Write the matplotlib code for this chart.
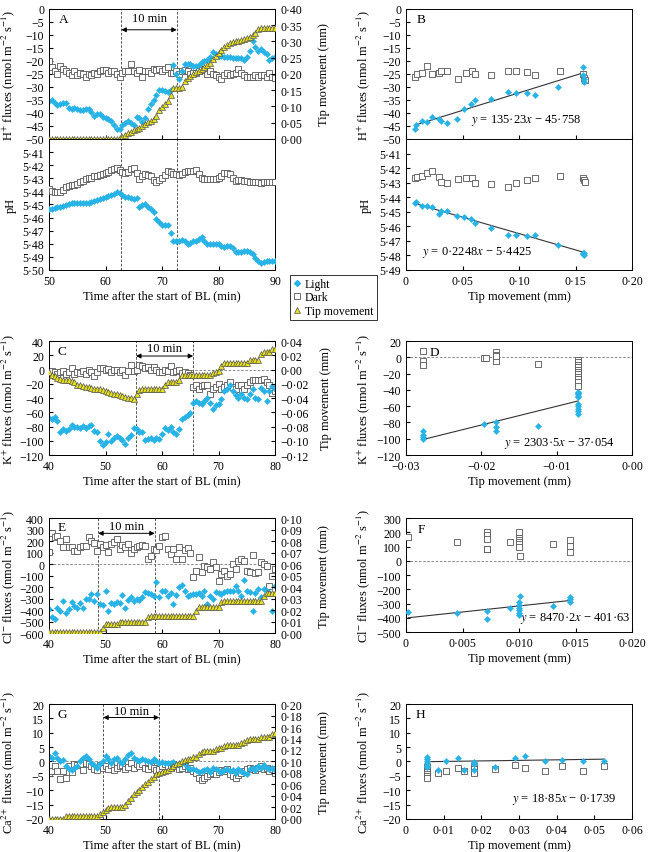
import numpy as np
import matplotlib
matplotlib.use('Agg')
import matplotlib.pyplot as plt
from matplotlib.ticker import FuncFormatter, MultipleLocator
from matplotlib.lines import Line2D

plt.rcParams['font.family'] = ['Liberation Serif', 'DejaVu Serif']
plt.rcParams['mathtext.fontset'] = 'stix'
plt.rcParams['font.size'] = 8.5
plt.rcParams['axes.labelsize'] = 9
plt.rcParams['xtick.direction'] = 'in'
plt.rcParams['ytick.direction'] = 'in'
plt.rcParams['xtick.major.size'] = 3
plt.rcParams['ytick.major.size'] = 3
plt.rcParams['axes.linewidth'] = 0.7

CYAN = '#27b3e6'
YELLOW = '#e6e11c'
EDGE = '#555555'

# ---- panel A (time 50-90 min, every 0.5 min) ----
time_a = np.arange(50, 90.01, 0.5)
a_h_light = [-35.5, -35, -36, -37, -36.5, -36, -36, -38, -38.5, -38,
             -38.5, -39, -39, -38.5, -38.5, -39.5, -41, -40.5, -40.5, -41.5,
             -42, -42.5, -43, -44.5, -46, -46, -44.5, -44, -43, -44,
             -44.5, -41.5, -42, -43.5, -42, -38.5, -36.5, -35, -33, -31,
             -31, -31.5, -32, -31, -21.5, -25, -27, -24, -21, -21,
             -21, -22, -22, -21.5, -20.5, -20, -19.5, -18.5, -16.5, -17.5,
             -18, -18, -18.5, -18.5, -18.5, -19, -19, -19, -19, -19.5,
             -18.5, -16, -12.5, -14.5, -16, -15.5, -16.5, -17.5, -19.5, -19,
             -18.5]
a_h_dark = [-20, -22.5, -24, -25, -22, -23, -24, -24.5, -25.5, -24,
            -25.5, -24.5, -25, -26, -25, -25.5, -24.5, -25, -24, -23.5,
            -23.5, -24.5, -24, -24, -25, -26, -24.5, -24, -24, -21,
            -24, -24.5, -23.5, -26, -24, -24, -24.5, -23, -23.5, -23,
            -24, -23, -22.5, -24.5, -24.5, -24, -25, -24, -23.5, -24,
            -25, -24.5, -24.5, -24, -23, -23.5, -25, -24, -25, -25.5,
            -26, -27, -25.5, -24.5, -25.5, -25, -24.5, -23, -24.5, -25.5,
            -26, -26, -26, -25.5, -26, -25.5, -25.5, -26, -24.5, -26,
            -26.5]
a_tip = [0, 0, 0, 0, 0, 0, 0, 0, 0, 0,
         0, 0, 0, 0, 0, 0, 0, 0, 0, 0,
         0, 0, 0, 0, 0, 0.002, 0.005, 0.012, 0.018, 0.023,
         0.027, 0.031, 0.035, 0.04, 0.046, 0.051, 0.056, 0.061, 0.07, 0.09,
         0.098, 0.108, 0.118, 0.134, 0.157, 0.157, 0.157, 0.16, 0.178, 0.188,
         0.194, 0.2, 0.205, 0.21, 0.215, 0.222, 0.228, 0.233, 0.245, 0.255,
         0.265, 0.275, 0.283, 0.29, 0.295, 0.298, 0.3, 0.303, 0.305, 0.308,
         0.311, 0.314, 0.32, 0.326, 0.338, 0.342, 0.342, 0.342, 0.342, 0.342,
         0.342]
a_ph_light = [5.4533, 5.4533, 5.4528, 5.452, 5.452, 5.451, 5.4505, 5.4495, 5.449, 5.4488,
              5.449, 5.4488, 5.4485, 5.4487, 5.4485, 5.448, 5.447, 5.4465, 5.446, 5.4452,
              5.4445, 5.4435, 5.4428, 5.442, 5.4406, 5.4415, 5.443, 5.444, 5.4442, 5.445,
              5.4457, 5.4452, 5.452, 5.4505, 5.4495, 5.452, 5.4533, 5.4555, 5.461, 5.4635,
              5.4656, 5.4656, 5.4656, 5.4717, 5.478, 5.4775, 5.4775, 5.4768, 5.478, 5.4798,
              5.4792, 5.478, 5.4775, 5.4765, 5.475, 5.4775, 5.48, 5.4798, 5.48, 5.4802,
              5.4805, 5.4815, 5.4827, 5.482, 5.4818, 5.4835, 5.4865, 5.4862, 5.486, 5.4857,
              5.4857, 5.4865, 5.488, 5.4905, 5.4929, 5.4945, 5.494, 5.493, 5.4932, 5.4932,
              5.493]
a_ph_dark = [5.438, 5.4395, 5.4406, 5.4404, 5.4402, 5.439, 5.4368, 5.4362, 5.435, 5.4352,
             5.4345, 5.433, 5.4317, 5.4305, 5.43, 5.4295, 5.4284, 5.428, 5.4273, 5.4268,
             5.4258, 5.4252, 5.424, 5.4228, 5.4222, 5.4235, 5.4253, 5.4258, 5.425, 5.4232,
             5.4222, 5.426, 5.4304, 5.4285, 5.427, 5.4275, 5.428, 5.431, 5.433, 5.4315,
             5.43, 5.4275, 5.4248, 5.4255, 5.4265, 5.427, 5.4278, 5.4265, 5.425, 5.4245,
             5.4248, 5.4245, 5.424, 5.427, 5.43, 5.4302, 5.4304, 5.4306, 5.4308, 5.4302,
             5.43, 5.428, 5.4258, 5.4262, 5.4268, 5.43, 5.4317, 5.4316, 5.4315, 5.4318,
             5.432, 5.4325, 5.433, 5.4328, 5.433, 5.4335, 5.4332, 5.4328, 5.4325, 5.4328,
             5.433]

# ---- panel B (regressions against tip movement) ----
b_tip_light = [0.0077, 0.0089, 0.0143, 0.0187, 0.0232, 0.0291, 0.0306, 0.0366, 0.0455, 0.0514, 0.0574,
               0.0609, 0.0752, 0.0900, 0.0975, 0.1070, 0.1138, 0.1346, 0.1565, 0.1569, 0.1572, 0.1575]
b_h_light = [-46, -44.5, -43, -43.5, -41.5, -42.5, -43, -44, -42.5, -38.5, -36.5,
             -35, -34.5, -32, -32.5, -32.5, -33, -30, -22.5, -25.5, -28, -27]
b_ph_light = [5.4443, 5.4433, 5.4457, 5.446, 5.4466, 5.4518, 5.4496, 5.4496, 5.453, 5.4534, 5.4553,
              5.4575, 5.4614, 5.466, 5.4662, 5.4667, 5.466, 5.4729, 5.4781, 5.4793, 5.48, 5.4786]
b_tip_dark = [0.0077, 0.0095, 0.0143, 0.0187, 0.0232, 0.0291, 0.0306, 0.0366, 0.0462, 0.0529, 0.0580,
              0.0609, 0.0752, 0.0900, 0.0975, 0.1070, 0.1138, 0.1360, 0.1565, 0.1578, 0.1580]
b_h_dark = [-26, -25, -24.5, -22, -25, -24.5, -23.8, -24, -27, -24.8, -24,
            -25.2, -25.5, -23.8, -23.7, -24.3, -25.5, -23.8, -25, -26.5, -27.5]
b_ph_dark = [5.4267, 5.4262, 5.4251, 5.4233, 5.4223, 5.4262, 5.4297, 5.4301, 5.4278, 5.4271, 5.4271,
             5.4301, 5.4306, 5.4329, 5.4301, 5.4283, 5.4267, 5.4251, 5.4267, 5.4283, 5.4297]
b_h_fit = (135.23, -45.758)
b_ph_fit = (0.2248, 5.4425)

# ---- panels C, E, G (time 40-80 min, every 0.5 min) ----
time_c = np.arange(40, 80.01, 0.5)
c_k_light = [-68, -70, -66, -72, -88, -84, -86, -84, -78, -80,
             -80, -82, -79, -82, -79, -78, -86, -87, -100, -106,
             -102, -90, -100, -96, -93, -96, -99, -105, -96, -92,
             -82, -84, -88, -88, -99, -98, -96, -99, -96, -98,
             -91, -82, -85, -80, -88, -91, -83, -70, -66, -64,
             -61, -47, -44, -47, -49, -44, -40, -47, -55, -50,
             -49, -42, -30, -28, -21, -30, -36, -40, -35, -40,
             -41, -35, -28, -40, -42, -26, -30, -44, -30, -23,
             -28]
c_k_dark = [-8, -2, -4, -6, -3, -2, -6, -4, 2, -6,
            -4, -5, -2, -6, 0, -4, -9, -3, 2, 2,
            0, 1, -3, 0, -1, -3, -1, -8, -2, 7,
            -2, -1, 6, 5, 2, 4, 0, 3, 0, -4,
            -3, 0, -2, 5, -4, -2, 0, -5, -3, -5,
            -7, -25, -22, -28, -23, -22, -22, -35, -27, -25,
            -20, -28, -25, -22, -18, -25, -28, -21, -22, -28,
            -22, -18, -15, -14, -15, -15, -13, -18, -22, -33,
            -30]
c_tip = [-0.003, -0.008, -0.009, -0.012, -0.013, -0.014, -0.015, -0.015, -0.016, -0.018,
         -0.021, -0.022, -0.023, -0.024, -0.025, -0.026, -0.027, -0.028, -0.028, -0.029,
         -0.030, -0.031, -0.033, -0.034, -0.035, -0.036, -0.037, -0.038, -0.040, -0.040,
         -0.041, -0.035, -0.029, -0.028, -0.028, -0.028, -0.028, -0.028, -0.028, -0.028,
         -0.028, -0.021, -0.018, -0.018, -0.018, -0.018, -0.014, -0.008, -0.007, -0.007,
         -0.007, -0.007, -0.007, -0.007, -0.007, -0.007, -0.007, -0.007, -0.005, -0.004,
         -0.002, 0.005, 0.009, 0.009, 0.009, 0.009, 0.009, 0.009, 0.009, 0.009,
         0.009, 0.013, 0.013, 0.013, 0.013, 0.022, 0.024, 0.024, 0.025, 0.029,
         0.029]

e_cl_light = [-391, -464, -478, -383, -406, -325, -429, -391, -333, -362,
              -383, -342, -383, -304, -304, -261, -325, -261, -348, -354,
              -238, -406, -342, -348, -333, -340, -267, -383, -313, -290,
              -325, -304, -310, -284, -246, -255, -261, -275, -159, -284,
              -238, -232, -275, -255, -348, -267, -203, -180, -238, -275,
              -267, -261, -261, -255, -275, -238, -348, -275, -304, -246,
              -255, -261, -246, -232, -232, -232, -188, -232, -275, -139,
              -232, -246, -406, -255, -217, -290, -217, -232, -255, -406,
              -188]
e_cl_dark = [101, 267, 238, 246, 200, 145, 217, 151, 145, 110,
             116, 151, 159, 160, 232, 203, 180, 116, 174, 145,
             168, 101, 174, 188, 217, 130, 168, 145, 174, 93,
             130, 145, 159, 168, 160, 45, 72, 130, 122, 159,
             232, 246, 130, 87, 130, 45, 145, 45, 122, 139,
             93, -116, -64, 64, -72, -14, -29, -43, 14, -29,
             -145, -87, -58, -101, -87, 0, -43, 29, 43, 29,
             -64, -72, 81, -81, -72, 14, 0, -14, -188, -101,
             -43]
e_tip = [0.0006, 0.0006, 0.0006, 0.0006, 0.0006, 0.0006, 0.0006, 0.0006, 0.0006, 0.0006,
         0.0006, 0.0006, 0.0006, 0.0006, 0.0006, 0.0006, 0.0006, 0.0006, 0.001, 0.004,
         0.008, 0.008, 0.008, 0.008, 0.008, 0.010, 0.010, 0.010, 0.010, 0.010,
         0.010, 0.010, 0.010, 0.010, 0.010, 0.0136, 0.015, 0.015, 0.015, 0.015,
         0.015, 0.015, 0.015, 0.015, 0.015, 0.015, 0.015, 0.015, 0.015, 0.015,
         0.015, 0.015, 0.0194, 0.0223, 0.0223, 0.0223, 0.0223, 0.0223, 0.0223, 0.0223,
         0.0223, 0.0267, 0.0275, 0.0275, 0.0275, 0.0275, 0.0275, 0.0275, 0.0275, 0.0275,
         0.0275, 0.0275, 0.0275, 0.0275, 0.0275, 0.0275, 0.0325, 0.035, 0.035, 0.035,
         0.035]

g_ca_light = [1.9, 1.3, 2.9, 1.3, 0.2, 0.5, -1.6, -2.5, -3.0, -2.2,
              -1.6, 0.2, 1.3, 1.9, 1.0, -0.4, -1.3, -2.2, -1.0, 0.2,
              1.9, 0.8, -0.6, 0.8, 1.3, -0.2, -0.4, 1.0, 2.2, 3.1,
              1.3, 0.5, 0.2, 0.8, 0.5, 0.2, -0.2, 0.8, 0.2, -0.4,
              -0.2, -0.4, -0.6, -0.4, -0.2, -1.0, -1.3, -0.6, -1.0, -2.2,
              -2.5, -2.7, -3.0, -3.7, -3.3, -3.0, -2.7, -3.7, -2.2, -2.7,
              -3.3, -3.7, -3.0, -2.5, -3.3, -3.0, -3.9, -2.7, -3.3, -4.1,
              -4.5, -2.7, -2.2, -3.0, -1.6, -2.2, -1.3, -2.2, -2.7, -2.2,
              -3.0]
g_ca_dark = [-4.1, -3.3, -1.6, -3.3, -6.0, -3.3, -5.7, -1.6, -3.7, -1.0,
             -1.3, -1.0, -3.0, -0.6, -1.0, -1.6, -2.7, -3.0, -1.3, -2.2,
             -1.6, -2.5, -1.3, -3.0, -2.2, -1.6, -1.3, -2.5, -1.8, -0.4,
             -2.2, -1.0, -1.6, -1.0, -2.2, -2.5, -1.6, -2.2, -3.0, -2.5,
             -1.6, -1.0, -1.6, -2.2, -1.0, -1.6, -2.5, -2.2, -1.6, -2.5,
             -2.2, -3.3, -4.1, -5.7, -6.5, -5.7, -5.1, -4.5, -3.9, -4.5,
             -3.7, -3.0, -3.3, -2.7, -4.5, -5.1, -5.7, -4.8, -4.1, -3.3,
             -2.7, -2.2, -2.7, -3.0, -2.2, -1.6, -2.7, -2.2, -3.3, -2.5,
             -4.1]
g_tip = [0, 0, 0, 0, 0, 0, 0.006, 0.006, 0.006, 0.006,
         0.006, 0.006, 0.006, 0.006, 0.006, 0.006, 0.006, 0.006, 0.008, 0.013,
         0.016, 0.019, 0.021, 0.021, 0.021, 0.021, 0.021, 0.025, 0.031, 0.037,
         0.043, 0.047, 0.051, 0.056, 0.060, 0.064, 0.069, 0.073, 0.078, 0.080,
         0.082, 0.083, 0.086, 0.089, 0.092, 0.095, 0.098, 0.101, 0.103, 0.104,
         0.105, 0.107, 0.108, 0.113, 0.117, 0.118, 0.118, 0.118, 0.118, 0.122,
         0.124, 0.124, 0.127, 0.128, 0.128, 0.128, 0.128, 0.128, 0.132, 0.134,
         0.138, 0.139, 0.139, 0.139, 0.139, 0.142, 0.143, 0.143, 0.143, 0.148,
         0.150]

# ---- panels D, F, H ----
d_tip_light = [-0.0278, -0.0278, -0.0278, -0.0278, -0.0196, -0.018, -0.018, -0.018, -0.0125,
               -0.0072, -0.0072, -0.0072, -0.0072, -0.0072, -0.0072, -0.0072, -0.0072, -0.0072, -0.0072]
d_k_light = [-90, -96, -100, -98, -82, -80, -86, -90, -84,
             -42, -44, -45, -47, -49, -57, -60, -63, -66, -70]
d_tip_dark = [-0.0278, -0.0278, -0.0278, -0.0196, -0.0194, -0.018, -0.018, -0.018, -0.018, -0.018, -0.0125,
              -0.0072, -0.0072, -0.0072, -0.0072, -0.0072, -0.0072, -0.0072, -0.0072, -0.0072, -0.0072, -0.0072]
d_k_dark = [8, -5, -10, -1, -1, 6, 3, 0, -4, 2, -8,
            -3, -6, -9, -12, -15, -18, -21, -24, -27, -30, -35]
d_fit = (2303.5, -37.054)

f_tip_light = [0.0002, 0.0045, 0.0072, 0.0072, 0.0092, 0.0100, 0.0100, 0.0100, 0.0100,
               0.0100, 0.0100, 0.0101, 0.0130, 0.0145, 0.0145, 0.0145]
f_cl_light = [-362, -368, -352, -408, -332, -290, -310, -330, -345,
              -365, -380, -248, -318, -255, -270, -290]
f_tip_dark = [0.0002, 0.0045, 0.0072, 0.0072, 0.0072, 0.0072, 0.0072, 0.0092, 0.0100, 0.0100,
              0.0100, 0.0100, 0.0100, 0.0100, 0.0101, 0.0130, 0.0145, 0.0145, 0.0145]
f_cl_dark = [165, 130, 205, 180, 150, 85, 80, 130, 200, 160,
             145, 130, 115, 100, 35, 118, 145, 105, 65]
f_fit = (8470.2, -401.63)

h_tip_light = [0.0055, 0.0055, 0.0055, 0.0055, 0.0055, 0.0055, 0.0085, 0.0107, 0.0138, 0.0155,
               0.018, 0.018, 0.018, 0.0235, 0.029, 0.0315, 0.037, 0.0415, 0.047, 0.0525]
h_ca_light = [1.5, 1.0, 0.3, -0.5, -1.5, -2, -3, 0, 1.3, -3,
              -0.3, -1, -2.8, -2, 1.3, 2, 0.2, 0.4, 0, 0]
h_tip_dark = [0.0055, 0.0055, 0.0055, 0.0055, 0.0055, 0.0055, 0.0085, 0.0107, 0.0138, 0.0155,
              0.018, 0.018, 0.018, 0.018, 0.0235, 0.029, 0.0315, 0.037, 0.0415, 0.047, 0.0525]
h_ca_dark = [-2, -3, -3.8, -4.5, -5.2, -5.8, -4, -3.3, -2.3, -3.2,
             -1.5, -2.5, -3.5, -4, -2.7, -1.3, -2.2, -3.3, -1.5, -3.3, -1.5]
h_fit = (18.85, -0.1739)


def fmt(dec, plain_zero=False):
    def f(v, pos):
        if abs(v) < 1e-9:
            return '0' if (plain_zero or dec == 0) else f"{0:.{dec}f}".replace('.', '\u00b7')
        return f"{v:.{dec}f}".replace('.', '\u00b7').replace('-', '\u2212')
    return FuncFormatter(f)


def scatter_pair(ax, x_light, light, x_dark, dark):
    ax.plot(x_dark, dark, ls='none', marker='s', ms=4, mfc='white', mec=EDGE, mew=0.6, zorder=3)
    ax.plot(x_light, light, ls='none', marker='D', ms=3.2, mfc=CYAN, mec=CYAN, mew=0.3, zorder=4)


def tip(ax, x, y):
    ax.plot(x, y, ls='none', marker='^', ms=4, mfc=YELLOW, mec=EDGE, mew=0.5, zorder=5)


def dashed_v(ax, xs):
    for x in xs:
        ax.axvline(x, color='#333333', ls=(0, (3, 2)), lw=0.6, zorder=1)


def dashed_h(ax):
    ax.axhline(0, color='#777777', ls=(0, (3, 2)), lw=0.6, zorder=1)


def ten_min(ax, x1, x2, y_arrow, y_text):
    ax.annotate('', xy=(x2, y_arrow), xytext=(x1, y_arrow),
                arrowprops=dict(arrowstyle='<|-|>', color='black', lw=0.7,
                                mutation_scale=7, shrinkA=0, shrinkB=0))
    ax.text((x1 + x2) / 2, y_text, '10 min', ha='center', va='center', fontsize=9)


def fit_line(ax, xs, coef, text, tx, ty):
    xs = np.array([min(xs), max(xs)])
    ax.plot(xs, coef[0] * xs + coef[1], color='#333333', lw=0.8, zorder=2)
    ax.text(tx, ty, text, ha='center', va='center', fontsize=9)


def letter(ax, s, x=0.062, y=0.92):
    ax.text(x, y, s, transform=ax.transAxes, ha='center', va='center', fontsize=9.5)


def left_axis(ax, label, ylab_x):
    ax.set_ylabel(label)
    ax.yaxis.set_label_coords(ylab_x, 0.5)


def right_tip_axis(ax, x, y, lim, step, lab_x):
    tw = ax.twinx()
    tip(tw, x, y)
    tw.set_ylim(*lim)
    tw.yaxis.set_major_locator(MultipleLocator(step))
    tw.yaxis.set_major_formatter(fmt(2))
    tw.set_ylabel(tip_label, rotation=90)
    tw.yaxis.set_label_coords(lab_x, 0.5)
    return tw


flux_unit = ' fluxes (nmol m$^{-2}$ s$^{-1}$)'
time_label = 'Time after the start of BL (min)'
tip_label = 'Tip movement (mm)'

fig = plt.figure(figsize=(6.48, 8.53), dpi=100)
L, R, W = 0.0756, 0.6265, 0.349
YL_LEFT = -0.14
YL_RIGHT = -0.15

# A, H+ flux and tip movement
ax = fig.add_axes([L, 0.8359, W, 0.1524])
scatter_pair(ax, time_a, a_h_light, time_a, a_h_dark)
dashed_v(ax, [62.8, 72.6])
ten_min(ax, 62.8, 72.6, -8, -3.6)
ax.set_xlim(50, 90)
ax.set_ylim(-50, 0)
ax.yaxis.set_major_locator(MultipleLocator(5))
ax.yaxis.set_major_formatter(fmt(0))
ax.xaxis.set_major_locator(MultipleLocator(10))
ax.tick_params(labelbottom=False)
left_axis(ax, 'H$^{+}$' + flux_unit, YL_LEFT)
letter(ax, 'A', 0.066)
right_tip_axis(ax, time_a, a_tip, (0, 0.40), 0.05, 1.19)

# A, pH
ax = fig.add_axes([L, 0.6823, W, 0.1536])
scatter_pair(ax, time_a, a_ph_light, time_a, a_ph_dark)
dashed_v(ax, [62.8, 72.6])
ax.set_xlim(50, 90)
ax.set_ylim(5.50, 5.40)
ax.set_yticks(np.round(np.arange(5.41, 5.505, 0.01), 2))
ax.yaxis.set_major_formatter(fmt(2))
ax.xaxis.set_major_locator(MultipleLocator(10))
ax.xaxis.set_major_formatter(fmt(0))
left_axis(ax, 'pH', YL_LEFT)
ax.set_xlabel(time_label, labelpad=2)

# B, H+ flux vs tip
ax = fig.add_axes([R, 0.8359, W, 0.1524])
scatter_pair(ax, b_tip_light, b_h_light, b_tip_dark, b_h_dark)
fit_line(ax, b_tip_light, b_h_fit, '$y$ = 135\u00b723$x$ \u2212 45\u00b7758', 0.106, -42.5)
ax.set_xlim(0, 0.20)
ax.set_ylim(-50, 0)
ax.yaxis.set_major_locator(MultipleLocator(5))
ax.yaxis.set_major_formatter(fmt(0))
ax.xaxis.set_major_locator(MultipleLocator(0.05))
ax.tick_params(labelbottom=False)
left_axis(ax, 'H$^{+}$' + flux_unit, YL_RIGHT)
letter(ax, 'B', 0.066)

# B, pH vs tip
ax = fig.add_axes([R, 0.6823, W, 0.1536])
scatter_pair(ax, b_tip_light, b_ph_light, b_tip_dark, b_ph_dark)
fit_line(ax, b_tip_light, b_ph_fit, '$y$ = 0\u00b72248$x$ \u2212 5\u00b74425', 0.063, 5.4774)
ax.set_xlim(0, 0.20)
ax.set_ylim(5.49, 5.40)
ax.set_yticks(np.round(np.arange(5.41, 5.495, 0.01), 2))
ax.yaxis.set_major_formatter(fmt(2))
ax.xaxis.set_major_locator(MultipleLocator(0.05))
ax.xaxis.set_major_formatter(fmt(2, plain_zero=True))
left_axis(ax, 'pH', YL_RIGHT)
ax.set_xlabel(tip_label, labelpad=2)

# C, K+ flux
ax = fig.add_axes([L, 0.4654, W, 0.1336])
scatter_pair(ax, time_c, c_k_light, time_c, c_k_dark)
dashed_v(ax, [55.4, 65.5])
dashed_h(ax)
ten_min(ax, 55.4, 65.5, 19, 30.5)
ax.set_xlim(40, 80)
ax.set_ylim(-120, 40)
ax.yaxis.set_major_locator(MultipleLocator(20))
ax.yaxis.set_major_formatter(fmt(0))
ax.xaxis.set_major_locator(MultipleLocator(10))
ax.xaxis.set_major_formatter(fmt(0))
left_axis(ax, 'K$^{+}$' + flux_unit, YL_LEFT)
ax.set_xlabel(time_label, labelpad=2)
letter(ax, 'C', 0.058, 0.91)
right_tip_axis(ax, time_c, c_tip, (-0.12, 0.04), 0.02, 1.2)

# D, K+ vs tip
ax = fig.add_axes([R, 0.4654, W, 0.1336])
scatter_pair(ax, d_tip_light, d_k_light, d_tip_dark, d_k_dark)
dashed_h(ax)
fit_line(ax, d_tip_light, d_fit, '$y$ = 2303\u00b75$x$ \u2212 37\u00b7054', -0.0097, -105)
ax.set_xlim(-0.03, 0.0)
ax.set_ylim(-120, 20)
ax.yaxis.set_major_locator(MultipleLocator(20))
ax.yaxis.set_major_formatter(fmt(0))
ax.xaxis.set_major_locator(MultipleLocator(0.01))
ax.xaxis.set_major_formatter(fmt(2))
left_axis(ax, 'K$^{+}$' + flux_unit, YL_RIGHT)
ax.set_xlabel(tip_label, labelpad=2)
letter(ax, 'D', 0.125, 0.9)

# E, Cl- flux
ax = fig.add_axes([L, 0.2567, W, 0.1348])
scatter_pair(ax, time_c, e_cl_light, time_c, e_cl_dark)
dashed_v(ax, [48.7, 58.7])
dashed_h(ax)
ten_min(ax, 48.7, 58.7, 267, 335)
ax.set_xlim(40, 80)
ax.set_ylim(-600, 400)
ax.yaxis.set_major_locator(MultipleLocator(100))
ax.yaxis.set_major_formatter(fmt(0))
ax.xaxis.set_major_locator(MultipleLocator(10))
ax.xaxis.set_major_formatter(fmt(0))
left_axis(ax, 'Cl$^{-}$' + flux_unit, YL_LEFT)
ax.set_xlabel(time_label, labelpad=2)
letter(ax, 'E', 0.058, 0.92)
right_tip_axis(ax, time_c, e_tip, (0, 0.10), 0.01, 1.19)

# F, Cl- vs tip
ax = fig.add_axes([R, 0.2579, W, 0.1336])
scatter_pair(ax, f_tip_light, f_cl_light, f_tip_dark, f_cl_dark)
dashed_h(ax)
fit_line(ax, f_tip_light, f_fit, '$y$ = 8470\u00b72$x$ \u2212 401\u00b763', 0.0150, -398)
ax.set_xlim(0, 0.020)
ax.set_ylim(-500, 300)
ax.yaxis.set_major_locator(MultipleLocator(100))
ax.yaxis.set_major_formatter(fmt(0))
ax.xaxis.set_major_locator(MultipleLocator(0.005))
ax.xaxis.set_major_formatter(fmt(3, plain_zero=True))
left_axis(ax, 'Cl$^{-}$' + flux_unit, YL_RIGHT)
ax.set_xlabel(tip_label, labelpad=2)
letter(ax, 'F', 0.066, 0.9)

# G, Ca2+ flux
ax = fig.add_axes([L, 0.0387, W, 0.1348])
scatter_pair(ax, time_c, g_ca_light, time_c, g_ca_dark)
dashed_v(ax, [49.6, 59.5])
dashed_h(ax)
ten_min(ax, 49.6, 59.5, 15.3, 17.7)
ax.set_xlim(40, 80)
ax.set_ylim(-20, 20)
ax.yaxis.set_major_locator(MultipleLocator(5))
ax.yaxis.set_major_formatter(fmt(0))
ax.xaxis.set_major_locator(MultipleLocator(10))
ax.xaxis.set_major_formatter(fmt(0))
left_axis(ax, 'Ca$^{2+}$' + flux_unit, YL_LEFT)
ax.set_xlabel(time_label, labelpad=2)
letter(ax, 'G', 0.058, 0.91)
right_tip_axis(ax, time_c, g_tip, (0, 0.20), 0.02, 1.19)

# H, Ca2+ vs tip
ax = fig.add_axes([R, 0.0387, W, 0.1348])
scatter_pair(ax, h_tip_light, h_ca_light, h_tip_dark, h_ca_dark)
fit_line(ax, h_tip_light, h_fit, '$y$ = 18\u00b785$x$ \u2212 0\u00b71739', 0.0418, -12.8)
ax.set_xlim(0, 0.06)
ax.set_ylim(-20, 20)
ax.yaxis.set_major_locator(MultipleLocator(5))
ax.yaxis.set_major_formatter(fmt(0))
ax.xaxis.set_major_locator(MultipleLocator(0.01))
ax.xaxis.set_major_formatter(fmt(2, plain_zero=True))
left_axis(ax, 'Ca$^{2+}$' + flux_unit, YL_RIGHT)
ax.set_xlabel(tip_label, labelpad=2)
letter(ax, 'H', 0.062, 0.91)

# shared legend
handles = [
    Line2D([], [], ls='none', marker='D', ms=3, mfc=CYAN, mec=CYAN),
    Line2D([], [], ls='none', marker='s', ms=4, mfc='white', mec=EDGE, mew=0.6),
    Line2D([], [], ls='none', marker='^', ms=4, mfc=YELLOW, mec=EDGE, mew=0.5),
]
leg = fig.legend(handles, ['Light', 'Dark', 'Tip movement'], loc='upper left',
                 bbox_to_anchor=(0.4475, 0.677), fontsize=8.5, frameon=True, fancybox=False,
                 handlelength=0.6, handletextpad=0.35, borderpad=0.3, labelspacing=0.12,
                 borderaxespad=0)
leg.get_frame().set_edgecolor('black')
leg.get_frame().set_linewidth(0.7)

fig.savefig('out.png', dpi=100)
